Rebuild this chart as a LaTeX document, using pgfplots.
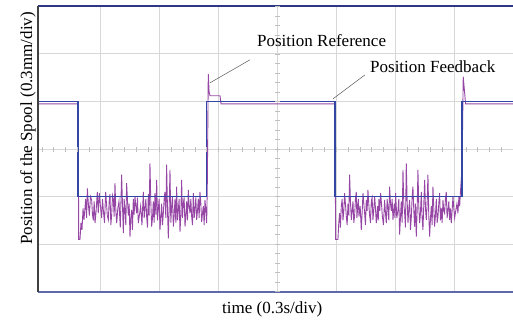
\documentclass[border=0pt]{standalone}
\usepackage{pgfplots}
\pgfplotsset{compat=1.18}
\usepackage{fontspec}
\setmainfont{Liberation Serif}
\definecolor{refblue}{RGB}{50,70,165}
\definecolor{fbpurple}{RGB}{150,70,165}
\definecolor{gridgray}{RGB}{215,215,215}
\definecolor{framenavy}{RGB}{45,55,130}
\definecolor{framebot}{RGB}{95,105,170}
\begin{document}
\begin{tikzpicture}
\useasboundingbox (0bp,0bp) rectangle (513bp,320bp);
\begin{axis}[
  at={(38bp,28.3bp)}, anchor=south west, scale only axis,
  width=475bp, height=285.4bp,
  xmin=-0.065, xmax=8, ymin=0, ymax=6,
  xtick={1,...,7}, ytick={1,...,5},
  xticklabels={}, yticklabels={},
  tick style={draw=none},
  grid=major, grid style={gridgray, line width=0.8bp},
  axis line style={draw=none},
  clip=false,
  font=\fontsize{17bp}{20bp}\selectfont,
]
% feedback (purple)
\addplot[fbpurple, line width=0.9bp] coordinates {
(-0.065,3.95) (0.620,3.95) (0.625,1.10) (0.648,1.10)
(0.665,1.45) (0.682,1.30) (0.700,1.75) (0.716,1.51) (0.745,1.95) (0.760,1.55) (0.773,2.17) (0.790,1.85) (0.807,1.60) (0.826,2.00) (0.846,1.93) (0.860,1.62) (0.874,1.50) (0.889,1.90) (0.903,1.44) (0.922,1.70) (0.942,2.10) (0.958,1.65) (0.976,2.07) (0.995,1.80) (1.016,1.55) (1.030,1.95) (1.044,1.72) (1.064,1.45) (1.084,2.10) (1.098,1.85) (1.112,1.60) (1.129,1.51) (1.143,1.88) (1.157,2.05) (1.172,1.40) (1.186,1.62) (1.200,2.02) (1.214,1.95) (1.228,1.58) (1.242,2.28) (1.257,1.70) (1.271,1.44) (1.290,1.75) (1.310,1.90) (1.332,1.35) (1.355,2.46) (1.370,1.80) (1.384,1.23) (1.398,1.95) (1.412,1.70) (1.426,1.40) (1.440,2.28) (1.455,1.90) (1.469,1.60) (1.483,1.85) (1.497,1.15) (1.511,1.55) (1.525,1.72) (1.539,1.30) (1.553,1.95) (1.567,1.62) (1.582,2.00) (1.596,1.80) (1.610,1.65) (1.624,1.98) (1.638,1.44) (1.658,1.62) (1.678,1.80) (1.700,1.40) (1.723,2.10) (1.738,1.55) (1.752,1.75) (1.766,1.95) (1.780,1.58) (1.794,1.35) (1.808,2.05) (1.822,1.60) (1.836,2.70) (1.850,1.90) (1.865,1.37) (1.879,1.55) (1.893,1.90) (1.907,1.45) (1.921,2.07) (1.936,1.62) (1.950,2.35) (1.964,1.50) (1.978,1.75) (1.992,1.95) (2.006,1.30) (2.020,1.55) (2.035,1.85) (2.049,1.40) (2.063,1.65) (2.077,1.95) (2.091,2.10) (2.105,1.55) (2.119,2.67) (2.134,1.70) (2.148,1.12) (2.162,1.75) (2.176,2.56) (2.190,1.45) (2.204,1.80) (2.218,2.00) (2.233,1.37) (2.247,1.60) (2.261,1.95) (2.275,1.45) (2.289,2.21) (2.303,1.50) (2.317,1.70) (2.331,1.95) (2.346,1.26) (2.360,1.60) (2.374,2.35) (2.388,1.55) (2.402,1.85) (2.416,1.98) (2.431,1.37) (2.445,1.60) (2.459,1.90) (2.473,1.50) (2.487,2.14) (2.501,1.80) (2.516,1.65) (2.530,1.95) (2.544,1.58) (2.558,1.40) (2.572,2.07) (2.587,1.55) (2.601,1.75) (2.615,1.98) (2.629,1.51) (2.643,1.70) (2.657,1.95) (2.671,1.55) (2.685,2.10) (2.700,1.85) (2.714,1.47) (2.728,1.65) (2.742,1.80) (2.756,1.40) (2.770,1.93) (2.785,1.70) (2.799,1.44)
(2.810,2.30) (2.826,4.58) (2.840,4.20) (2.855,4.12) (3.025,4.12) (3.042,3.95)
(4.975,3.95) (4.989,1.10) (5.028,1.10)
(5.042,1.45) (5.056,1.65) (5.070,1.35) (5.085,1.80) (5.099,1.95) (5.113,1.50) (5.127,1.70) (5.141,2.07) (5.155,1.85) (5.170,1.58) (5.184,1.40) (5.198,1.85) (5.212,1.60) (5.226,2.46) (5.240,1.90) (5.255,1.51) (5.269,1.70) (5.283,1.90) (5.297,1.45) (5.311,1.60) (5.325,1.95) (5.339,2.10) (5.350,1.55) (5.362,1.75) (5.374,1.95) (5.385,1.58) (5.405,1.80) (5.424,1.30) (5.438,1.65) (5.453,2.07) (5.467,1.85) (5.481,1.65) (5.495,1.40) (5.509,1.93) (5.523,1.70) (5.537,2.14) (5.551,1.85) (5.566,1.60) (5.580,1.45) (5.594,1.90) (5.608,1.98) (5.622,1.51) (5.636,1.72) (5.651,2.00) (5.665,1.75) (5.679,1.44) (5.690,1.60) (5.700,1.80) (5.712,1.50) (5.724,1.95) (5.738,1.70) (5.753,2.07) (5.767,1.85) (5.781,1.60) (5.800,1.40) (5.820,1.93) (5.835,1.65) (5.849,1.44) (5.863,1.95) (5.877,1.75) (5.891,1.50) (5.905,2.21) (5.920,1.85) (5.934,1.70) (5.948,1.95) (5.962,1.51) (5.974,1.70) (5.985,1.85) (5.996,1.55) (6.007,2.07) (6.027,1.55) (6.047,1.72) (6.061,1.95) (6.075,1.20) (6.089,1.55) (6.103,1.90) (6.118,1.45) (6.132,2.56) (6.146,1.85) (6.160,1.65) (6.174,1.35) (6.188,2.70) (6.203,1.90) (6.217,1.44) (6.231,1.75) (6.245,1.93) (6.259,1.30) (6.273,1.55) (6.287,1.98) (6.301,2.21) (6.316,1.70) (6.330,1.37) (6.344,1.85) (6.358,1.16) (6.372,1.70) (6.386,2.56) (6.400,1.80) (6.415,1.44) (6.429,1.65) (6.443,2.10) (6.457,1.55) (6.471,1.30) (6.486,1.85) (6.500,2.35) (6.514,1.75) (6.528,1.51) (6.542,1.85) (6.556,2.46) (6.570,1.60) (6.585,1.16) (6.599,1.55) (6.613,1.80) (6.627,1.40) (6.641,2.21) (6.655,1.75) (6.669,1.37) (6.683,1.60) (6.698,1.95) (6.712,1.45) (6.726,1.58) (6.740,1.85) (6.754,2.07) (6.768,1.50) (6.783,1.75) (6.797,1.45) (6.811,1.93) (6.825,1.70) (6.839,1.65) (6.853,1.95) (6.867,2.10) (6.881,1.55) (6.895,1.70) (6.910,1.90) (6.924,1.51) (6.938,1.75) (6.952,1.44) (6.966,1.70) (6.981,2.00) (6.995,1.75) (7.009,1.55) (7.028,1.70) (7.048,1.85) (7.065,1.65) (7.082,2.00) (7.095,1.80) (7.105,2.05)
(7.135,2.60) (7.155,4.52) (7.195,3.95) (8,3.95)
};
% reference (blue)
\addplot[refblue, line width=1.3bp] coordinates {
(-0.065,4) (0.614,4) (0.614,2) (2.796,2) (2.796,4) (4.977,4) (4.977,2) (7.134,2) (7.134,4) (8,4)
};
% frame
\draw[framenavy, line width=1.6bp] (rel axis cs:0,1) -- (rel axis cs:1,1);
\draw[framebot, line width=2.2bp] (rel axis cs:0,0) -- (rel axis cs:1,0);
\draw[black!75, line width=1.5bp] (rel axis cs:0,0) -- (rel axis cs:0,1);
% annotations
\draw[black!65, line width=0.5bp] (axis cs:3.534,4.875) -- (axis cs:2.855,4.391);
\draw[black!65, line width=0.5bp] (axis cs:5.487,4.559) -- (axis cs:4.943,4.054);
\node[anchor=base west, inner sep=0pt] at (axis cs:3.653,5.155) {Position Reference};
\node[anchor=base west, inner sep=0pt] at (axis cs:5.572,4.608) {Position Feedback};
\end{axis}
% minor ticks on centre lines
\foreach \k in {0,...,40} {\draw[black!25, line width=0.6bp] (41.83bp+\k*11.78bp,168.4bp) -- ++(0bp,5bp);}
\foreach \k in {0,...,30} {\draw[black!25, line width=0.6bp] (274.9bp,28.3bp+\k*9.513bp) -- ++(5bp,0bp);}
\node[anchor=base west, inner sep=0pt, font=\fontsize{17bp}{20bp}\selectfont] at (222bp,7bp) {time (0.3s/div)};
\node[rotate=90, anchor=base, inner sep=0pt, font=\fontsize{17bp}{20bp}\selectfont] at (32bp,191.5bp) {Position of the Spool (0.3mm/div)};
\end{tikzpicture}
\end{document}
